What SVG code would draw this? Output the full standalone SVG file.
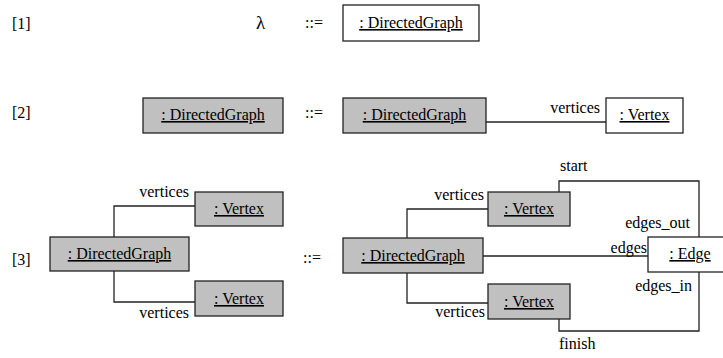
<svg xmlns="http://www.w3.org/2000/svg" width="723" height="358" viewBox="0 0 723 358" font-family="Liberation Serif, DejaVu Serif, serif">
<style>
text{font-family:"Liberation Serif","DejaVu Serif",serif;font-size:16px;fill:#000}
.n{text-anchor:middle;text-decoration:underline}
.e{text-anchor:end}
.box{stroke:#222;stroke-width:1.3;fill:#fff}
.g{fill:#c0c0c0}
.c{fill:none;stroke:#222;stroke-width:1.3}
</style>
<rect width="723" height="358" fill="#fff"/>
<g id="labels">
<text x="12" y="29">[1]</text>
<text x="256" y="29" style="font-size:19px">λ</text>
<text x="305" y="28">::=</text>
<text x="12" y="118">[2]</text>
<text x="305" y="118">::=</text>
<text x="12" y="265">[3]</text>
<text x="303" y="263">::=</text>
</g>
<g id="connectors">
<line class="c" x1="486" y1="122" x2="606" y2="122"/>
<polyline class="c" points="114,237 114,206 195,206"/>
<polyline class="c" points="114,271 114,302 195,302"/>
<polyline class="c" points="407,238 407,209 488,209"/>
<polyline class="c" points="407,273 407,303 488,303"/>
<line class="c" x1="483" y1="256" x2="648" y2="256"/>
<polyline class="c" points="559,192 559,181 699,181 699,237"/>
<polyline class="c" points="559,319 559,331 699,331 699,272"/>
<text class="e" x="600" y="113">vertices</text>
<text class="e" x="189" y="197">vertices</text>
<text class="e" x="189" y="318">vertices</text>
<text x="560" y="171">start</text>
<text class="e" x="484" y="200">vertices</text>
<text class="e" x="690" y="228">edges_out</text>
<text class="e" x="647" y="253">edges</text>
<text class="e" x="692" y="291">edges_in</text>
<text class="e" x="485" y="317">vertices</text>
<text x="559" y="349">finish</text>
</g>
<g id="r1-graph"><rect class="box" x="343" y="5" width="136" height="36"/><text class="n" x="411" y="28">: DirectedGraph</text></g>
<g id="r2-lhs-graph"><rect class="box g" x="143" y="98" width="140" height="35"/><text class="n" x="213" y="120">: DirectedGraph</text></g>
<g id="r2-rhs-graph"><rect class="box g" x="343" y="98" width="143" height="35"/><text class="n" x="414.5" y="120">: DirectedGraph</text></g>
<g id="r2-vertex"><rect class="box" x="606" y="98" width="77" height="35"/><text class="n" x="644.5" y="120">: Vertex</text></g>
<g id="r3-lhs-graph"><rect class="box g" x="50" y="237" width="139" height="34"/><text class="n" x="119.5" y="259">: DirectedGraph</text></g>
<g id="r3-lhs-vertex1"><rect class="box g" x="195" y="192" width="88" height="34"/><text class="n" x="239" y="214">: Vertex</text></g>
<g id="r3-lhs-vertex2"><rect class="box g" x="195" y="281" width="88" height="35"/><text class="n" x="239" y="304">: Vertex</text></g>
<g id="r3-rhs-graph"><rect class="box g" x="343" y="238" width="140" height="35"/><text class="n" x="413" y="261">: DirectedGraph</text></g>
<g id="r3-rhs-vertex1"><rect class="box g" x="488" y="192" width="82" height="34"/><text class="n" x="529" y="214">: Vertex</text></g>
<g id="r3-rhs-vertex2"><rect class="box g" x="488" y="284" width="82" height="35"/><text class="n" x="529" y="307">: Vertex</text></g>
<g id="r3-edge"><rect class="box" x="648" y="237" width="80" height="35"/><text class="n" x="690" y="259">: Edge</text></g>
</svg>
